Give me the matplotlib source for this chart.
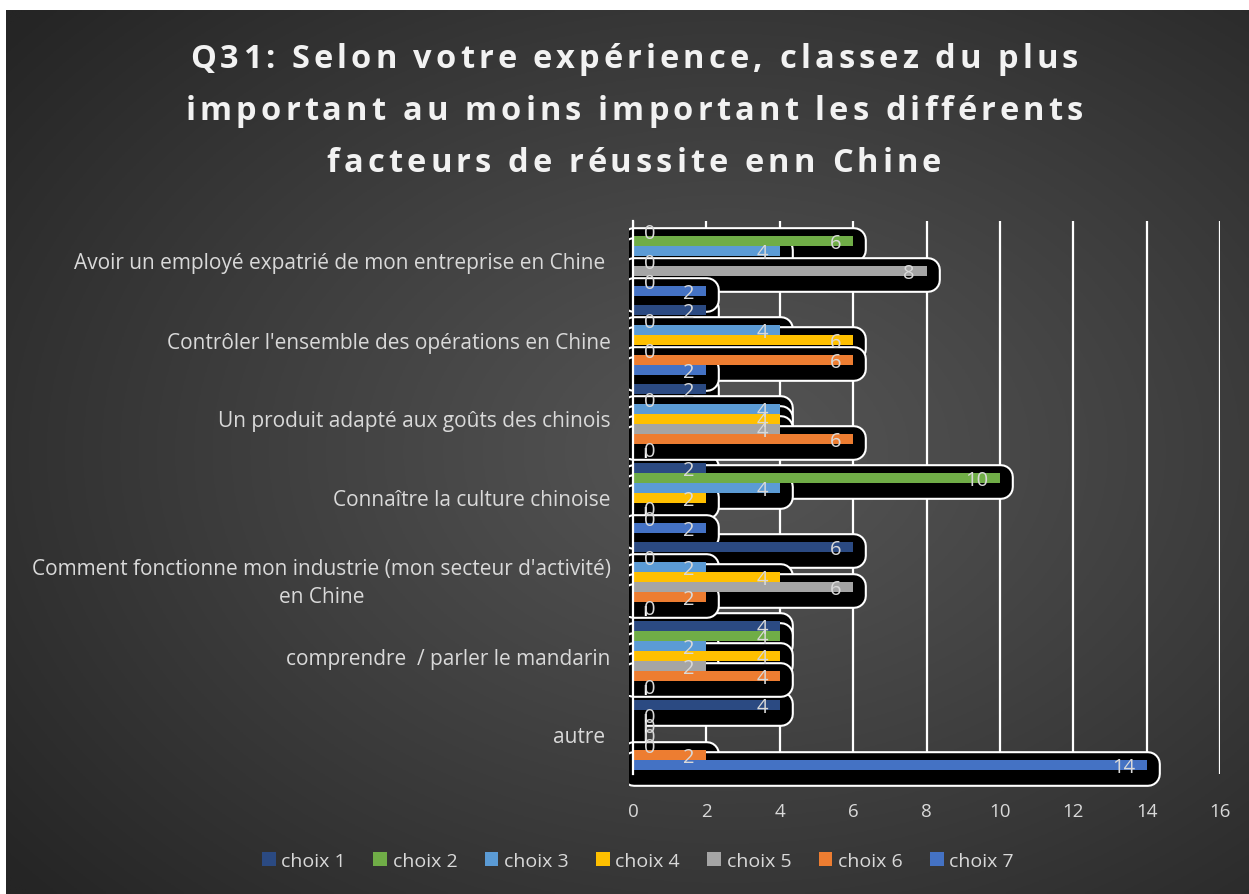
import numpy as np
import matplotlib
matplotlib.use("Agg")
import matplotlib.pyplot as plt
from matplotlib.patches import Patch, Rectangle
from matplotlib.transforms import ScaledTranslation
from matplotlib.font_manager import FontProperties

# ---------------- data ----------------
categories = [
    "Avoir un employé expatrié de mon entreprise en Chine ",
    "Contrôler l'ensemble des opérations en Chine",
    "Un produit adapté aux goûts des chinois",
    "Connaître la culture chinoise",
    "Comment fonctionne mon industrie (mon secteur d'activité)\nen Chine",
    "comprendre  / parler le mandarin",
    "autre ",
]
series_names = ["choix 1", "choix 2", "choix 3", "choix 4", "choix 5", "choix 6", "choix 7"]
choix1 = [0, 2, 2, 2, 6, 4, 4]
choix2 = [6, 0, 0, 10, 0, 4, 0]
choix3 = [4, 4, 4, 4, 2, 2, 0]
choix4 = [0, 6, 4, 2, 4, 4, 0]
choix5 = [8, 0, 4, 0, 6, 2, 0]
choix6 = [0, 6, 6, 0, 2, 4, 2]
choix7 = [2, 2, 0, 2, 0, 0, 14]
series_values = [choix1, choix2, choix3, choix4, choix5, choix6, choix7]
x_ticks = [0, 2, 4, 6, 8, 10, 12, 14, 16]
title_lines = ["Q31: Selon votre expérience, classez du plus",
               "important au moins important les différents",
               "facteurs de réussite enn Chine"]

colors = ["#2b4a82", "#70ad47", "#5b9bd5", "#ffc000", "#a5a5a5", "#ed7d31", "#4472c4"]
TXT = "#d9d9d9"
FONT = "Open Sans"

W, H = 1249, 895
fig = plt.figure(figsize=(W / 100, H / 100), dpi=100)
fig.patch.set_facecolor("white")

# ---------------- background gradient ----------------
bg = fig.add_axes([6 / W, 0, 1 - 6 / W, 1 - 11 / H], zorder=-10)
ny, nx = 300, 420
yy, xx = np.mgrid[0:ny, 0:nx]
xf = xx / (nx - 1)
yf = yy / (ny - 1)
r = np.sqrt(((xf - 0.58) / 0.75) ** 2 + ((yf - 0.5) / 0.75) ** 2)
r = np.clip(r, 0, 1)
val = 0x55 - (0x55 - 0x25) * r ** 1.1
img = np.dstack([val, val, val]) / 255.0
bg.imshow(img, aspect="auto", extent=[0, 1, 0, 1], origin="upper")
bg.set_axis_off()

# ---------------- main axes ----------------
ax = fig.add_axes([633 / W, 1 - 775 / H, (1220 - 633) / W, (775 - 222) / H])
ax.set_facecolor("none")
ax.set_xlim(0, 16)
n_cat = len(categories)
n_ser = len(series_names)
ax.set_ylim(n_cat - 0.5, -0.5)
h = 1 / 7.9

ax.set_xticks(x_ticks)
ax.set_xticklabels([str(t) for t in x_ticks], fontsize=13.5, color=TXT, family=FONT)
ax.set_yticks(np.arange(n_cat))
ax.set_yticklabels(categories, fontsize=15, color=TXT, family=FONT,
                   multialignment="center", linespacing=1.45)
ax.tick_params(axis="both", length=0)
ax.tick_params(axis="y", pad=16)
ax.tick_params(axis="x", pad=20)
ax.grid(axis="x", color="white", linewidth=1.6, zorder=0.5)
ax.set_axisbelow(True)
for s in ["top", "right", "bottom"]:
    ax.spines[s].set_visible(False)
ax.spines["left"].set_color("white")
ax.spines["left"].set_linewidth(1.6)
ax.spines["left"].set_zorder(10)

clip_rect = Rectangle((-0.006, -0.04), 1.07, 1.05, transform=ax.transAxes,
                      facecolor="none", edgecolor="none")
ax.add_patch(clip_rect)
clip_rect.set_visible(False)

shadow_off = ScaledTranslation(1 / 100, -4 / 100, fig.dpi_scale_trans)
cat_pos = np.arange(n_cat)

for j, (name, vals) in enumerate(zip(series_names, series_values)):
    ypos = cat_pos + (j - (n_ser - 1) / 2) * h
    # white outline of shadow
    wb = ax.barh(ypos, vals, height=h, color="white", edgecolor="white",
                 linewidth=18.5, zorder=2 + j * 0.1)
    # black shadow
    bb = ax.barh(ypos, vals, height=h, color="black", edgecolor="black",
                 linewidth=15.5, zorder=2.05 + j * 0.1)
    for p in list(wb) + list(bb):
        p.set_joinstyle("round")
        p.set_transform(ax.transData + shadow_off)
        p.set_clip_path(clip_rect)

for j, (name, vals) in enumerate(zip(series_names, series_values)):
    ypos = cat_pos + (j - (n_ser - 1) / 2) * h
    ax.barh(ypos, vals, height=h, color=colors[j], edgecolor="none", zorder=4, label=name)
    for y, v in zip(ypos, vals):
        if v > 0:
            ax.annotate(str(v), (v, y), xytext=(-8.5, -2), textcoords="offset points",
                        ha="right", va="center", fontsize=14.5, color=TXT, family=FONT,
                        zorder=6, annotation_clip=False)
        else:
            ax.annotate(str(v), (0, y), xytext=(8, -2), textcoords="offset points",
                        ha="left", va="center", fontsize=14.5, color=TXT, family=FONT,
                        zorder=6, annotation_clip=False)

# ---------------- legend ----------------
handles = [Patch(facecolor=c, edgecolor="none") for c in colors]
leg = fig.legend(handles, series_names, loc="center", bbox_to_anchor=(638 / W, 1 - 862 / H),
                 ncol=7, frameon=False, handlelength=0.7, handleheight=0.7,
                 handletextpad=0.3, columnspacing=1.4, prop={"family": FONT, "size": 14})
for t in leg.get_texts():
    t.set_color(TXT)

# ---------------- tracked title ----------------
renderer = fig.canvas.get_renderer()
tprop = FontProperties(family=FONT, weight="bold", size=23.5)


def tw(s):
    a = renderer.get_text_width_height_descent(s + "|", tprop, ismath=False)[0]
    b = renderer.get_text_width_height_descent("|", tprop, ismath=False)[0]
    return a - b


target = 888.0
spacing = (target - tw(title_lines[0])) / (len(title_lines[0]) - 1)
baselines = [68, 120, 172]
for line, yb in zip(title_lines, baselines):
    total = tw(line) + spacing * (len(line) - 1)
    x0 = 634 - total / 2
    for i, ch in enumerate(line):
        if ch == " ":
            continue
        x = x0 + tw(line[:i]) + i * spacing
        fig.text(x / W, 1 - yb / H, ch, fontproperties=tprop, ha="left", va="baseline",
                 color="#f2f2f2")

fig.savefig("out.png", dpi=100, facecolor=fig.get_facecolor())
